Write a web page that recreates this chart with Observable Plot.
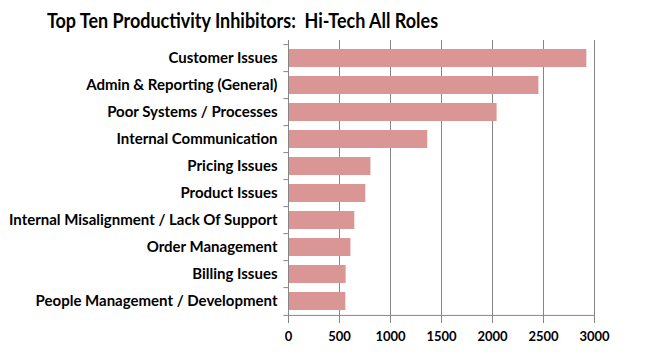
<!DOCTYPE html>
<html><head><meta charset="utf-8">
<script src="https://cdn.jsdelivr.net/npm/d3@7"></script>
<script src="https://cdn.jsdelivr.net/npm/@observablehq/plot@0.6"></script>
<style>
body{margin:0;background:#fff;}
#wrap{position:relative;width:652px;height:354px;}
#title{position:absolute;left:0;top:7px;width:485px;text-align:center;font-family:Lato,sans-serif;font-weight:bold;font-size:21px;color:#000;white-space:nowrap;transform:scaleX(0.855);transform-origin:242.5px 0;z-index:2;}
</style></head>
<body><div id="wrap"><div id="title">Top Ten Productivity Inhibitors:&nbsp; Hi-Tech All Roles</div></div>
<script>
const categories = ["Customer Issues","Admin & Reporting (General)","Poor Systems / Processes","Internal Communication","Pricing Issues","Product Issues","Internal Misalignment / Lack Of Support","Order Management","Billing Issues","People Management / Development"];
const values = [2925,2455,2045,1365,808,758,650,612,565,562];
const xTicks = [0,500,1000,1500,2000,2500,3000];
const data = categories.map((c,i)=>({category:c,value:values[i]}));
const H = 354, mTop = 40, mBottom = 36;
const step = (H - mTop - mBottom) / categories.length;
const grey = "#868686";
const chart = Plot.plot({
  width: 652, height: H,
  marginLeft: 288, marginRight: 58, marginTop: mTop, marginBottom: mBottom,
  style: {fontFamily: "Lato, sans-serif", fontWeight: "bold", color: "#000", background: "#fff"},
  x: {domain: [0,3000]},
  y: {domain: categories, paddingInner: 0.35, paddingOuter: 0.175},
  marks: [
    Plot.ruleX(xTicks, {stroke: grey, strokeWidth: 1}),
    Plot.barX(data, {y: "category", x: "value", fill: "#d99694"}),
    Plot.ruleY(categories, {y: d=>d, x1: -45, x2: 0, dy: -step/2, stroke: grey}),
    Plot.ruleY([categories[categories.length-1]], {y: d=>d, x1: -45, x2: 0, dy: step/2, stroke: grey}),
    Plot.ruleY([categories[categories.length-1]], {y: d=>d, x1: 0, x2: 3000, dy: step/2, stroke: grey}),
    Plot.ruleX([0], {stroke: grey}),
    Plot.axisX({ticks: xTicks, tickFormat: d=>String(d), tickSize: 5, tickPadding: 8, stroke: grey, fill: "#000", fontSize: 13, label: null}),
    Plot.axisY({tickSize: 0, tickPadding: 11, fontSize: 15, fill: "#000", label: null})
  ]
});
document.getElementById("wrap").appendChild(chart);
</script></body></html>
